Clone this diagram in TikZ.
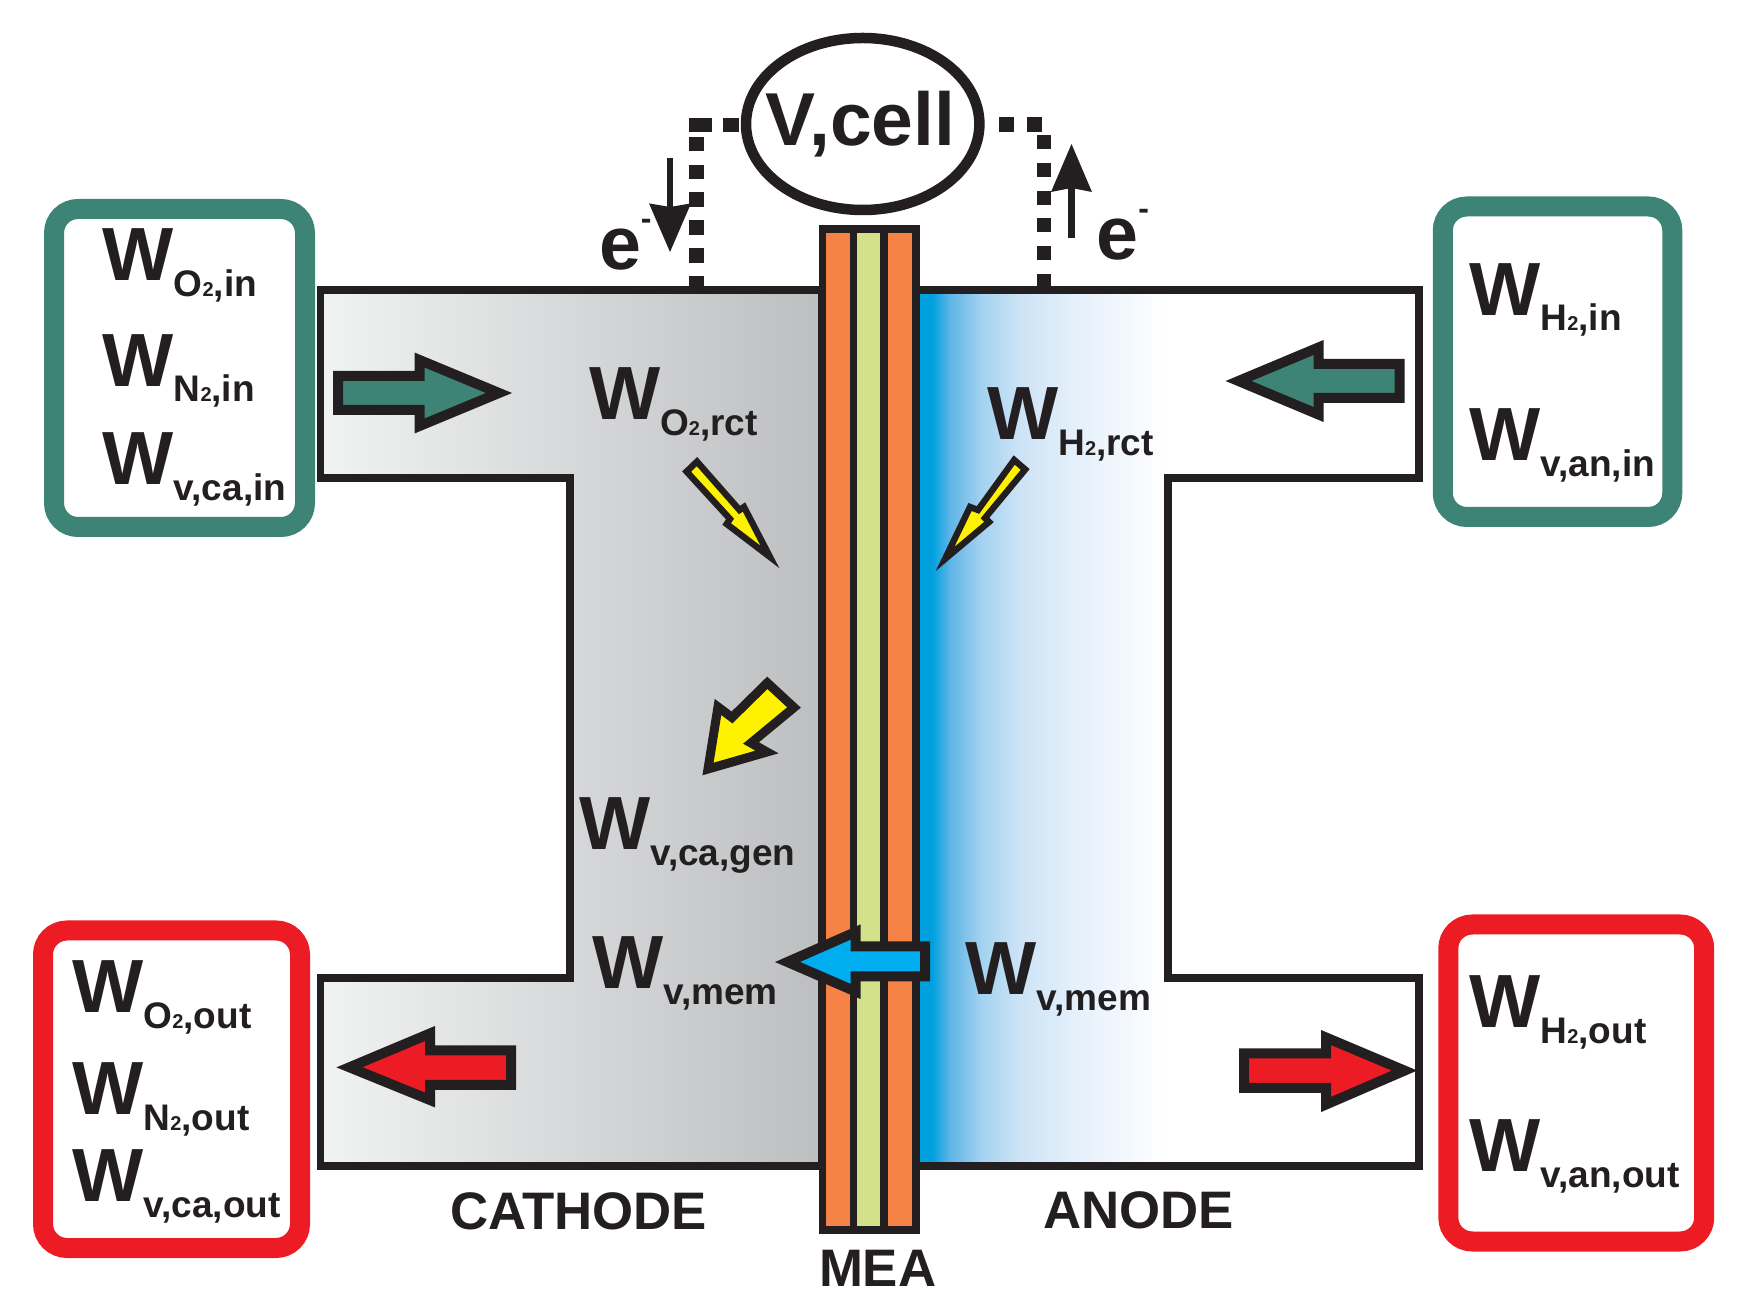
\documentclass[tikz,border=0pt]{standalone}
\usepackage{fontspec}
\setmainfont{Liberation Sans}
\usetikzlibrary{shadings,shapes.geometric}
\definecolor{ink}{HTML}{231F20}
\definecolor{tealc}{HTML}{3E8476}
\definecolor{redc}{HTML}{ED1C24}
\definecolor{orangec}{HTML}{F58345}
\definecolor{greenc}{HTML}{D3E28A}
\definecolor{yellowc}{HTML}{FFF200}
\definecolor{bluec}{HTML}{00AEEF}
\definecolor{gl}{HTML}{F1F2F2}
\definecolor{gr}{HTML}{BCBEC0}
\definecolor{an0}{HTML}{00A0DF}
\definecolor{an1}{HTML}{60B5E6}
\definecolor{an2}{HTML}{A3D2F0}
\definecolor{an3}{HTML}{CDE3F6}
\definecolor{an4}{HTML}{E5F0FB}
\definecolor{an5}{HTML}{F5F9FE}
\pgfdeclarehorizontalshading{cathshade}{100bp}{color(0bp)=(gl);color(25bp)=(gl);color(75bp)=(gr);color(100bp)=(gr)}
\pgfdeclarehorizontalshading{anshade}{100bp}{%
color(0bp)=(an0);color(26.6bp)=(an0);color(28.4bp)=(an1);color(31.5bp)=(an2);%
color(35.3bp)=(an3);color(40.9bp)=(an4);color(46.4bp)=(an5);color(49.8bp)=(white);color(100bp)=(white)}
\newcommand{\subtwo}{{\fontsize{10}{10}\selectfont 2}}
\newcommand{\WW}[1]{W\raisebox{-7.8pt}{\fontsize{18.5}{18.5}\selectfont #1}}
\tikzset{
  flow/.style={anchor=base west,inner sep=0pt,outer sep=0pt,text=ink,font=\fontsize{37.7}{38}\selectfont\bfseries},
  captext/.style={anchor=base west,inner sep=0pt,outer sep=0pt,text=ink,font=\fontsize{26.4}{27}\selectfont\bfseries},
  box/.style={line width=10pt,rounded corners=12pt,fill=white},
  chan/.style={draw=ink,line width=3.75pt,miter limit=10},
  block/.style={draw=ink,line width=5pt,miter limit=12,line join=miter},
  small/.style={draw=ink,line width=3.2pt,miter limit=10,fill=yellowc},
  wire/.style={draw=ink,line width=7.3pt},
  thinarrow/.style={fill=ink,draw=none},
  shaft/.style={draw=ink,line width=3.4pt}
}
\begin{document}
\begin{tikzpicture}[x=0.5pt,y=-0.5pt]
\useasboundingbox (0,0) rectangle (1758,1309);
% channels
\shade[shading=cathshade,chan] (320.5,290) -- (822,290) -- (822,1166) -- (320.5,1166) -- (320.5,978) -- (570,978) -- (570,478) -- (320.5,478) -- cycle;
\shade[shading=anshade,chan] (916,290) -- (1418.8,290) -- (1418.8,478) -- (1168,478) -- (1168,978) -- (1418.8,978) -- (1418.8,1166) -- (916,1166) -- cycle;
% MEA
\draw[fill=orangec,draw=ink,line width=3.6pt] (822.5,229) rectangle (916,1230);
\draw[fill=greenc,draw=none] (853.5,229) rectangle (884,1230);
\draw[draw=ink,line width=3.6pt] (853.5,229) -- (853.5,1230) (884,229) -- (884,1230);
\draw[draw=ink,line width=3.6pt] (822.5,229) rectangle (916,1230);
% boxes
\draw[box,draw=tealc] (54,209) rectangle (305,527);
\draw[box,draw=tealc] (1442.8,206.5) rectangle (1672.3,517);
\draw[box,draw=redc] (43,930.5) rectangle (300,1248);
\draw[box,draw=redc] (1448.3,924.5) rectangle (1704.2,1241.5);
% cell
\node[draw=ink,line width=5.25pt,ellipse,minimum width=116.7pt,minimum height=86pt,inner sep=0pt,fill=white] (cell) at (862.7,124) {};
\node[anchor=base,inner sep=0pt,text=ink,font=\fontsize{37.5}{38}\selectfont\bfseries] (vcell) at (860.5,146) {V,cell};
% wires
\coordinate (lstart) at (738.5,125);
\coordinate (lcorner) at (696.4,125);
\coordinate (lend) at (696.4,286);
\coordinate (rstart) at (999,124.5);
\coordinate (rcorner) at (1044,124.5);
\coordinate (rend) at (1044,286);
\draw[wire,dash pattern=on 7.75pt off 5.75pt on 11pt off 2.5pt on 7.25pt off 6.65pt on 7.25pt off 6.65pt on 7.25pt off 6.65pt on 7.25pt off 6.65pt on 7.25pt off 6.65pt on 7.25pt off 6.65pt] (lstart) -- (lcorner) -- (lend);
\draw[wire,dash pattern=on 7.3pt off 6.7pt on 7.3pt off 6.45pt on 7pt off 6.9pt on 7pt off 6.9pt on 7pt off 6.9pt on 7pt off 6.9pt on 7pt off 6.9pt on 7pt off 6.9pt] (rstart) -- (rcorner) -- (rend);
% electron arrows
\coordinate (ltail) at (670,158);
\coordinate (lhead) at (670,207);
\draw[shaft] (ltail) -- (lhead);
\fill[thinarrow] (670,252) -- (649,203.4) -- (670,207) -- (691,203.4) -- cycle;
\coordinate (rtail) at (1071.5,238);
\coordinate (rhead) at (1071.5,188);
\draw[shaft] (rtail) -- (rhead);
\fill[thinarrow] (1071.5,144) -- (1051,192) -- (1071.5,188) -- (1092,192) -- cycle;
% block arrows
\draw[block,fill=tealc] (338,376) -- (419.5,376) -- (419.5,360) -- (499,393) -- (419.5,426) -- (419.5,410) -- (338,410) -- cycle;
\draw[block,fill=tealc] (1399.5,364) -- (1318.5,364) -- (1318.5,347.5) -- (1238.5,381) -- (1318.5,414.5) -- (1318.5,398) -- (1399.5,398) -- cycle;
\draw[block,fill=redc] (511,1050.4) -- (430,1050.4) -- (430,1033.5) -- (349.5,1067.3) -- (430,1100) -- (430,1085) -- (511,1085) -- cycle;
\draw[block,fill=redc] (1244.2,1053.5) -- (1326,1053.5) -- (1326,1037.5) -- (1404.5,1070.6) -- (1326,1104.5) -- (1326,1088) -- (1244.2,1088) -- cycle;
\draw[block,fill=bluec] (925,946.5) -- (855.7,946.5) -- (855.7,932) -- (787.5,962) -- (855.7,991.5) -- (855.7,976.4) -- (925,976.4) -- cycle;
\draw[block,line width=4.5pt,fill=yellowc] (708,769) -- (718,707) -- (732,717.5) -- (767.3,682.8) -- (794,707.5) -- (751,743) -- (767,752) -- cycle;
\draw[small] (697,461.6) -- (686.6,471.6) -- (730,519) -- (726.7,524) -- (770,557) -- (744,507) -- (739.5,510) -- cycle;
\draw[small] (1014.2,460) -- (1025.2,469.5) -- (985,518) -- (989,522) -- (945,559) -- (970,507) -- (978,510) -- cycle;
% labels
\node[flow] (o2in) at (102.7,280.7) {\WW{O\subtwo,in}};
\node[flow] (n2in) at (102.7,386.4) {\WW{N\subtwo,in}};
\node[flow] (vcain) at (102.7,484.5) {\WW{v,ca,in}};
\node[flow] (o2rct) at (589,420) {\WW{O\subtwo,rct}};
\node[flow] (h2rct) at (987.3,440) {\WW{H\subtwo,rct}};
\node[flow] (h2in) at (1469.5,315.4) {\WW{H\subtwo,in}};
\node[flow] (vanin) at (1469.5,461) {\WW{v,an,in}};
\node[flow] (vcagen) at (579,850) {\WW{v,ca,gen}};
\node[flow] (vmemc) at (592,988.8) {\WW{v,mem}};
\node[flow] (o2out) at (72.5,1012.6) {\WW{O\subtwo,out}};
\node[flow] (n2out) at (72.5,1114.5) {\WW{N\subtwo,out}};
\node[flow] (vcaout) at (72.5,1202) {\WW{v,ca,out}};
\node[flow] (vmema) at (965.5,995) {\WW{v,mem}};
\node[flow] (h2out) at (1469.5,1028) {\WW{H\subtwo,out}};
\node[flow] (vanout) at (1469.5,1171.7) {\WW{v,an,out}};
\node[flow] (el) at (599,269.4) {e\raisebox{20pt}{\fontsize{16}{16}\selectfont -}};
\node[flow] (er) at (1096.5,260) {e\raisebox{20pt}{\fontsize{16}{16}\selectfont -}};
\node[captext] (cathode) at (450,1229.5) {CATHODE};
\node[captext] (anode) at (1043,1228) {ANODE};
\node[captext] (mea) at (819,1286.7) {MEA};
\end{tikzpicture}
\end{document}
